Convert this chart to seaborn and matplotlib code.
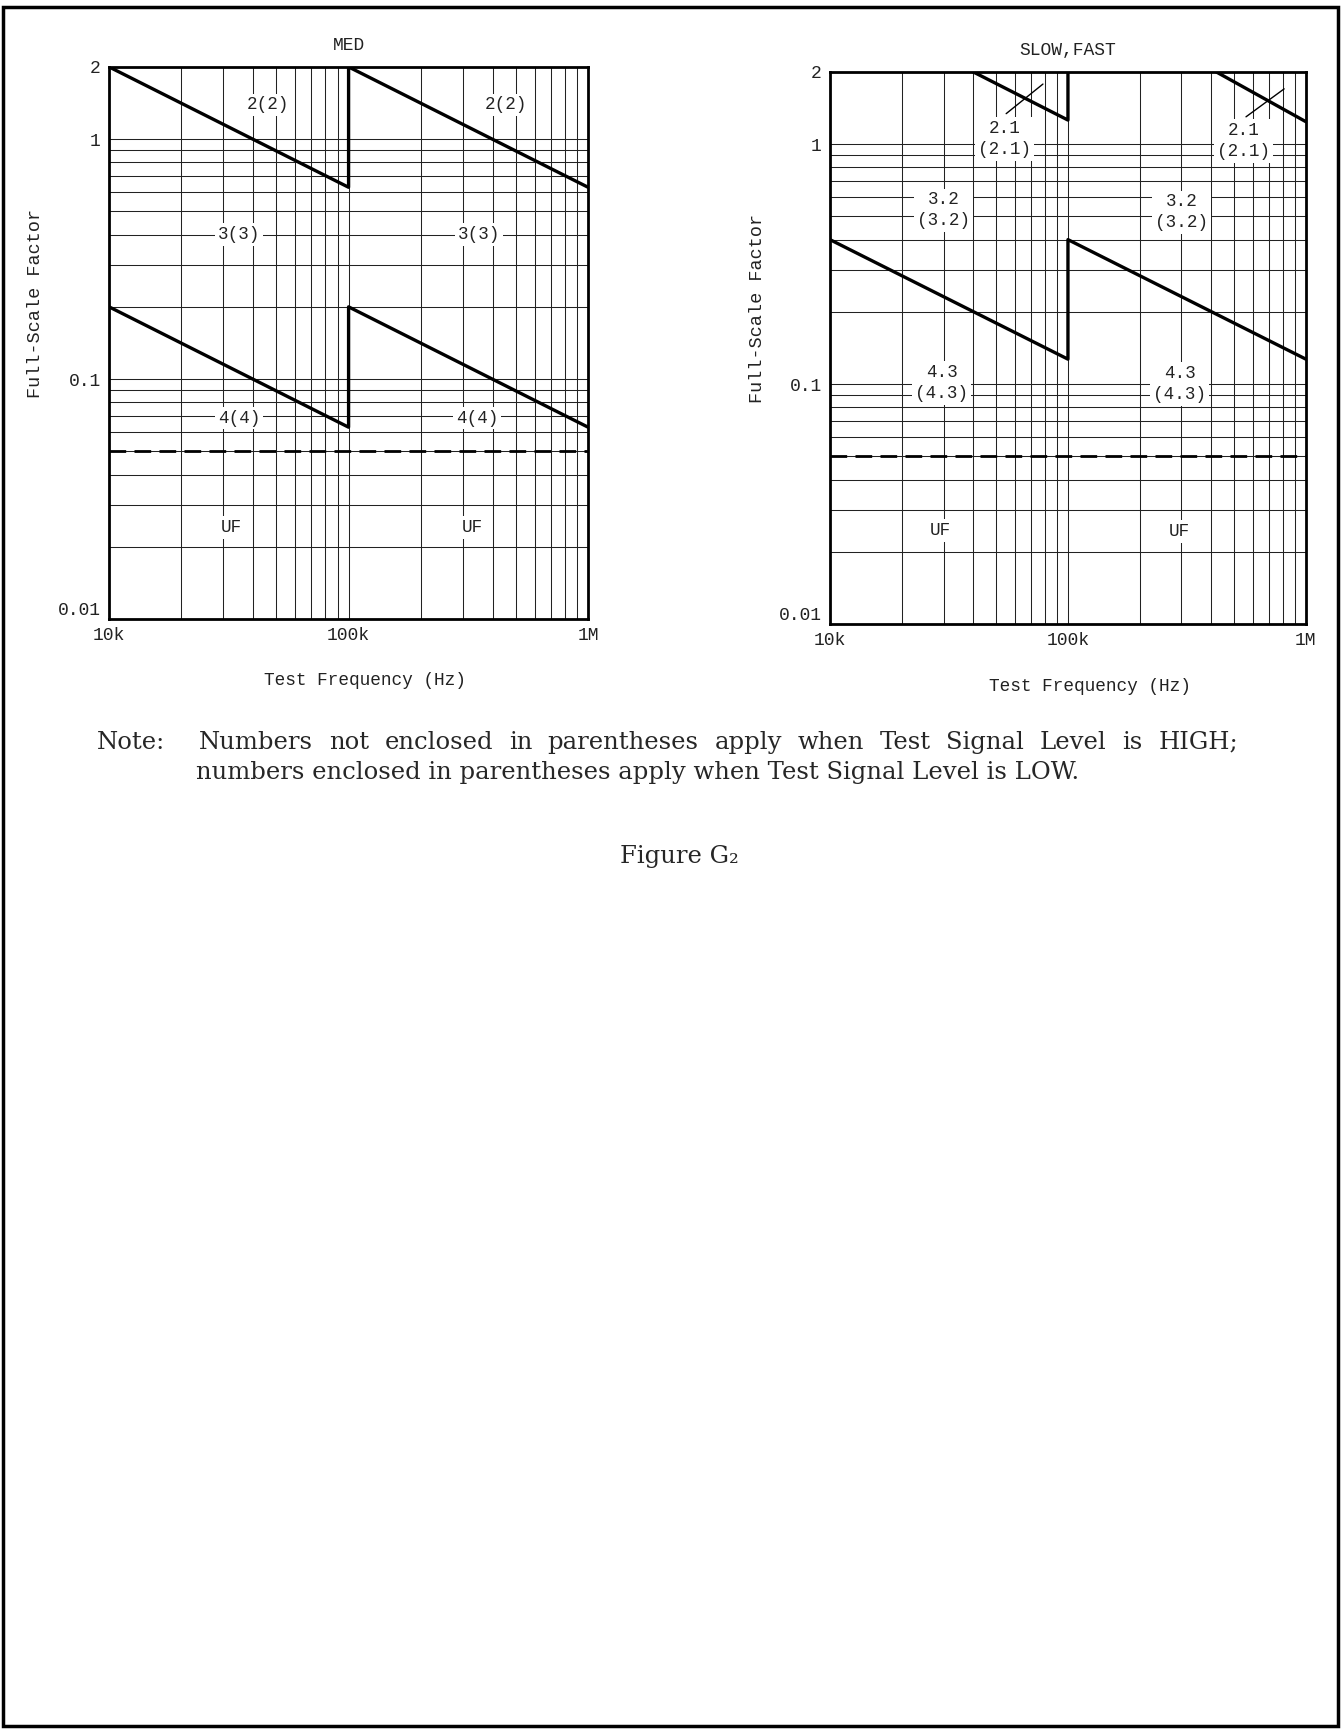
import numpy as np
import pandas as pd
import matplotlib
matplotlib.use("Agg")
import matplotlib.pyplot as plt
import matplotlib.ticker as mticker
import seaborn as sns

# ---- data ----
y_ticks = [0.01, 0.1, 1, 2]
y_tick_labels = ["0.01", "0.1", "1", "2"]
x_ticks = [1e4, 1e5, 1e6]
x_tick_labels = ["10k", "100k", "1M"]
uf_limit = 0.05

# MED: range 2 and range 4 sawtooth traces
med_r2_freq = [1e4, 1e5, 1e5, 1e6]
med_r2_fsf = [2.0, 0.63, 2.0, 0.63]
med_r4_freq = [1e4, 1e5, 1e5, 1e6]
med_r4_fsf = [0.2, 0.063, 0.2, 0.063]

med_labels = ["2(2)", "2(2)", "3(3)", "3(3)", "4(4)", "4(4)", "UF", "UF"]
med_label_freq = [4.6e4, 4.55e5, 3.5e4, 3.5e5, 3.5e4, 3.45e5, 3.25e4, 3.3e5]
med_label_fsf = [1.39, 1.39, 0.40, 0.40, 0.0688, 0.0688, 0.024, 0.024]

# SLOW,FAST: range 2.1 (two pieces) and range 4.3 sawtooth
sf_r21_freq = [4e4, 1e5, 1e5]
sf_r21_fsf = [2.0, 1.26, 2.0]
sf_r21b_freq = [4.2e5, 1e6]
sf_r21b_fsf = [2.0, 1.24]
sf_r43_freq = [1e4, 1e5, 1e5, 1e6]
sf_r43_fsf = [0.4, 0.127, 0.4, 0.127]

sf_labels = ["2.1\n(2.1)", "2.1\n(2.1)", "3.2\n(3.2)", "3.2\n(3.2)",
             "4.3\n(4.3)", "4.3\n(4.3)", "UF", "UF"]
sf_label_freq = [5.4e4, 5.45e5, 3.0e4, 3.0e5, 2.95e4, 2.95e5, 2.9e4, 2.95e5]
sf_label_fsf = [1.05, 1.03, 0.53, 0.52, 0.101, 0.100, 0.0245, 0.0243]

# leader strokes pointing at the 2.1 traces
sf_leader_freq = [[5.5e4, 7.85e4], [5.6e5, 8.1e5]]
sf_leader_fsf = [[1.34, 1.78], [1.30, 1.70]]

sns.set_style("white")
plt.rcParams["font.family"] = ["Liberation Mono", "DejaVu Sans Mono"]

fig = plt.figure(figsize=(13.43, 17.29), dpi=100)
ax_med = fig.add_axes([0.0812, 0.6420, 0.3567, 0.3193])
ax_sf = fig.add_axes([0.6180, 0.6391, 0.3544, 0.3193])


def draw_trace(ax, freq, fsf):
    df = pd.DataFrame({"freq": freq, "fsf": fsf, "seg": 0})
    sns.lineplot(data=df, x="freq", y="fsf", units="seg", estimator=None,
                 sort=False, color="black", lw=2.4, ax=ax, zorder=4)


def setup_axes(ax, title):
    ax.set_xscale("log")
    ax.set_yscale("log")
    ax.set_xlim(1e4, 1e6)
    ax.set_ylim(0.01, 2)
    ax.set_xticks(x_ticks)
    ax.set_xticklabels(x_tick_labels)
    ax.set_yticks(y_ticks)
    ax.set_yticklabels(y_tick_labels)
    ax.xaxis.set_minor_locator(mticker.LogLocator(base=10, subs=np.arange(2, 10)))
    ax.yaxis.set_minor_locator(mticker.LogLocator(base=10, subs=np.arange(2, 10)))
    ax.xaxis.set_minor_formatter(mticker.NullFormatter())
    ax.yaxis.set_minor_formatter(mticker.NullFormatter())
    ax.grid(True, which="both", color="#222222", lw=0.75)
    ax.tick_params(which="both", length=0, labelsize=13, colors="#222222")
    ax.tick_params(axis="x", pad=6)
    ax.tick_params(axis="y", pad=6)
    ax.get_yticklabels()[0].set_va("bottom")
    for s in ax.spines.values():
        s.set_linewidth(2.0)
        s.set_color("black")
    ax.axhline(uf_limit, color="black", lw=2.0, ls=(0, (6, 3)), zorder=4)
    ax.set_title(title, fontsize=13, pad=12, color="#222222")
    ax.set_xlabel("Test Frequency (Hz)", fontsize=12.8, color="#222222")
    ax.set_ylabel("Full-Scale Factor", fontsize=13.3, color="#222222")
    ax.yaxis.set_label_coords(-0.135, 0.572)


setup_axes(ax_med, "MED")
setup_axes(ax_sf, "SLOW,FAST")
ax_med.xaxis.set_label_coords(0.534, -0.096)
ax_sf.xaxis.set_label_coords(0.547, -0.098)

draw_trace(ax_med, med_r2_freq, med_r2_fsf)
draw_trace(ax_med, med_r4_freq, med_r4_fsf)
draw_trace(ax_sf, sf_r21_freq, sf_r21_fsf)
draw_trace(ax_sf, sf_r21b_freq, sf_r21b_fsf)
draw_trace(ax_sf, sf_r43_freq, sf_r43_fsf)

for lf, lv in zip(sf_leader_freq, sf_leader_fsf):
    ax_sf.plot(lf, lv, color="black", lw=1.0, zorder=5)

box = dict(facecolor="white", edgecolor="none", pad=2)
for ax, labels, fx, fy in [(ax_med, med_labels, med_label_freq, med_label_fsf),
                           (ax_sf, sf_labels, sf_label_freq, sf_label_fsf)]:
    for t, x, y in zip(labels, fx, fy):
        ax.text(x, y, t, ha="center", va="center", fontsize=12.7,
                linespacing=1.3, bbox=box, zorder=6, color="#222222")

# ---- note and figure caption ----
serif = ["DejaVu Serif"]
note_size = 17.5
note_y1 = 1 - 742 / 1729
note_y2 = 1 - 772 / 1729
fig.text(97 / 1343, note_y1, "Note:", family=serif, fontsize=note_size,
         va="center", ha="left")
line1 = "Numbers not enclosed in parentheses apply when Test Signal Level is HIGH;"
words = line1.split()
word_texts = [fig.text(0, note_y1, w, family=serif, fontsize=note_size,
                       va="center", ha="left") for w in words]
renderer = fig.canvas.get_renderer()
widths = [t.get_window_extent(renderer).width for t in word_texts]
x0, x1 = 199.0, 1238.0
gap = (x1 - x0 - sum(widths)) / (len(words) - 1)
xpos = x0
for t, w in zip(word_texts, widths):
    t.set_x(xpos / 1343)
    xpos += w + gap
fig.text(196 / 1343, note_y2,
         "numbers enclosed in parentheses apply when Test Signal Level is LOW.",
         family=serif, fontsize=note_size, va="center", ha="left")
fig.text(679 / 1343, 1 - 856 / 1729, "Figure G\u2082", family=serif,
         fontsize=note_size, va="center", ha="center")

# page frame
fig.add_artist(plt.Rectangle((0.0022, 0.0017), 0.994, 0.994,
                             transform=fig.transFigure, fill=False,
                             lw=2.5, color="black"))

fig.savefig("out.png", dpi=100)
